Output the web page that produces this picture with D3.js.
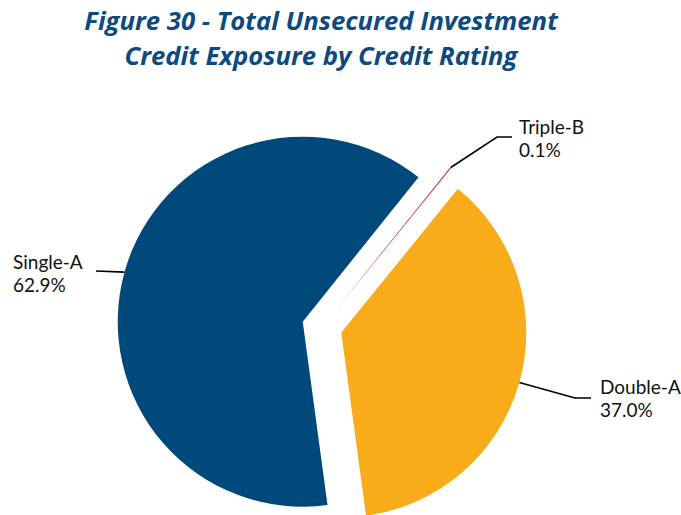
<!DOCTYPE html>
<html>
<head>
<meta charset="utf-8">
<script src="https://cdn.jsdelivr.net/npm/d3@7"></script>
<style>
  html, body { margin: 0; padding: 0; background: #fff; }
  svg { display: block; }
</style>
</head>
<body>
<svg id="chart" width="681" height="515"></svg>
<script>
// Credit exposure shares by rating (percent of total)
const categories = ["Single-A", "Triple-B", "Double-A"];
const shares = [62.9, 0.1, 37.0];
const shareLabels = ["62.9%", "0.1%", "37.0%"];
const sliceColors = ["#02497b", "#c8102e", "#f8ac1a"];

const titleLines = [
  "Figure 30 - Total Unsecured Investment",
  "Credit Exposure by Credit Rating"
];

const W = 681, H = 515;
const cx = 322, cy = 327;     // pie centre
const radius = 185;
const explode = 20;           // every slice pulled out from the centre
const startDeg = 172.3;       // first slice begins just left of 6 o'clock

const svg = d3.select("#chart");
const labelFont = "Lato, 'Open Sans', 'DejaVu Sans', sans-serif";
const titleFont = "'Open Sans', Lato, 'DejaVu Sans', sans-serif";

// Title
svg.append("g")
  .selectAll("text")
  .data(titleLines)
  .join("text")
  .attr("x", 321)
  .attr("y", (d, i) => 30 + i * 35)
  .attr("text-anchor", "middle")
  .attr("font-family", titleFont)
  .attr("font-weight", 700)
  .attr("font-style", "italic")
  .attr("font-size", 25.7)
  .attr("fill", "#0d4a80")
  .text(d => d);

const rad = Math.PI / 180;
const pie = d3.pie()
  .sort(null)
  .value(d => d)
  .startAngle(startDeg * rad)
  .endAngle((startDeg + 360) * rad);

const arcs = pie(shares);
const arc = d3.arc().innerRadius(0).outerRadius(radius);

function bisector(a) { return (a.startAngle + a.endAngle) / 2; }
function offset(a) {
  const m = bisector(a);
  return [Math.sin(m) * explode, -Math.cos(m) * explode];
}

const pieG = svg.append("g").attr("transform", `translate(${cx},${cy})`);
pieG.selectAll("path")
  .data(arcs)
  .join("path")
  .attr("transform", d => { const o = offset(d); return `translate(${o[0]},${o[1]})`; })
  .attr("d", arc)
  .attr("fill", (d, i) => sliceColors[i]);

// Label layout: text anchor + leader elbow points (absolute page coordinates)
const labelPos = [
  { x: 13,  y: 269, path: [[96, 271]] },
  { x: 519, y: 134, path: [[497, 137], [512, 137]] },
  { x: 600, y: 394, path: [[575, 398], [591, 398]] }
];

arcs.forEach((a, i) => {
  const m = bisector(a);
  const o = offset(a);
  const start = [cx + o[0] + Math.sin(m) * radius, cy + o[1] - Math.cos(m) * radius];
  const pts = [start].concat(labelPos[i].path);
  svg.append("path")
    .attr("d", d3.line()(pts))
    .attr("fill", "none")
    .attr("stroke", "#000")
    .attr("stroke-width", 1.6);

  const t = svg.append("text")
    .attr("font-family", labelFont)
    .attr("font-size", 19)
    .attr("fill", "#111");
  t.append("tspan").attr("x", labelPos[i].x).attr("y", labelPos[i].y).text(categories[i]);
  t.append("tspan").attr("x", labelPos[i].x).attr("y", labelPos[i].y + 23).text(shareLabels[i]);
});
</script>
</body>
</html>
